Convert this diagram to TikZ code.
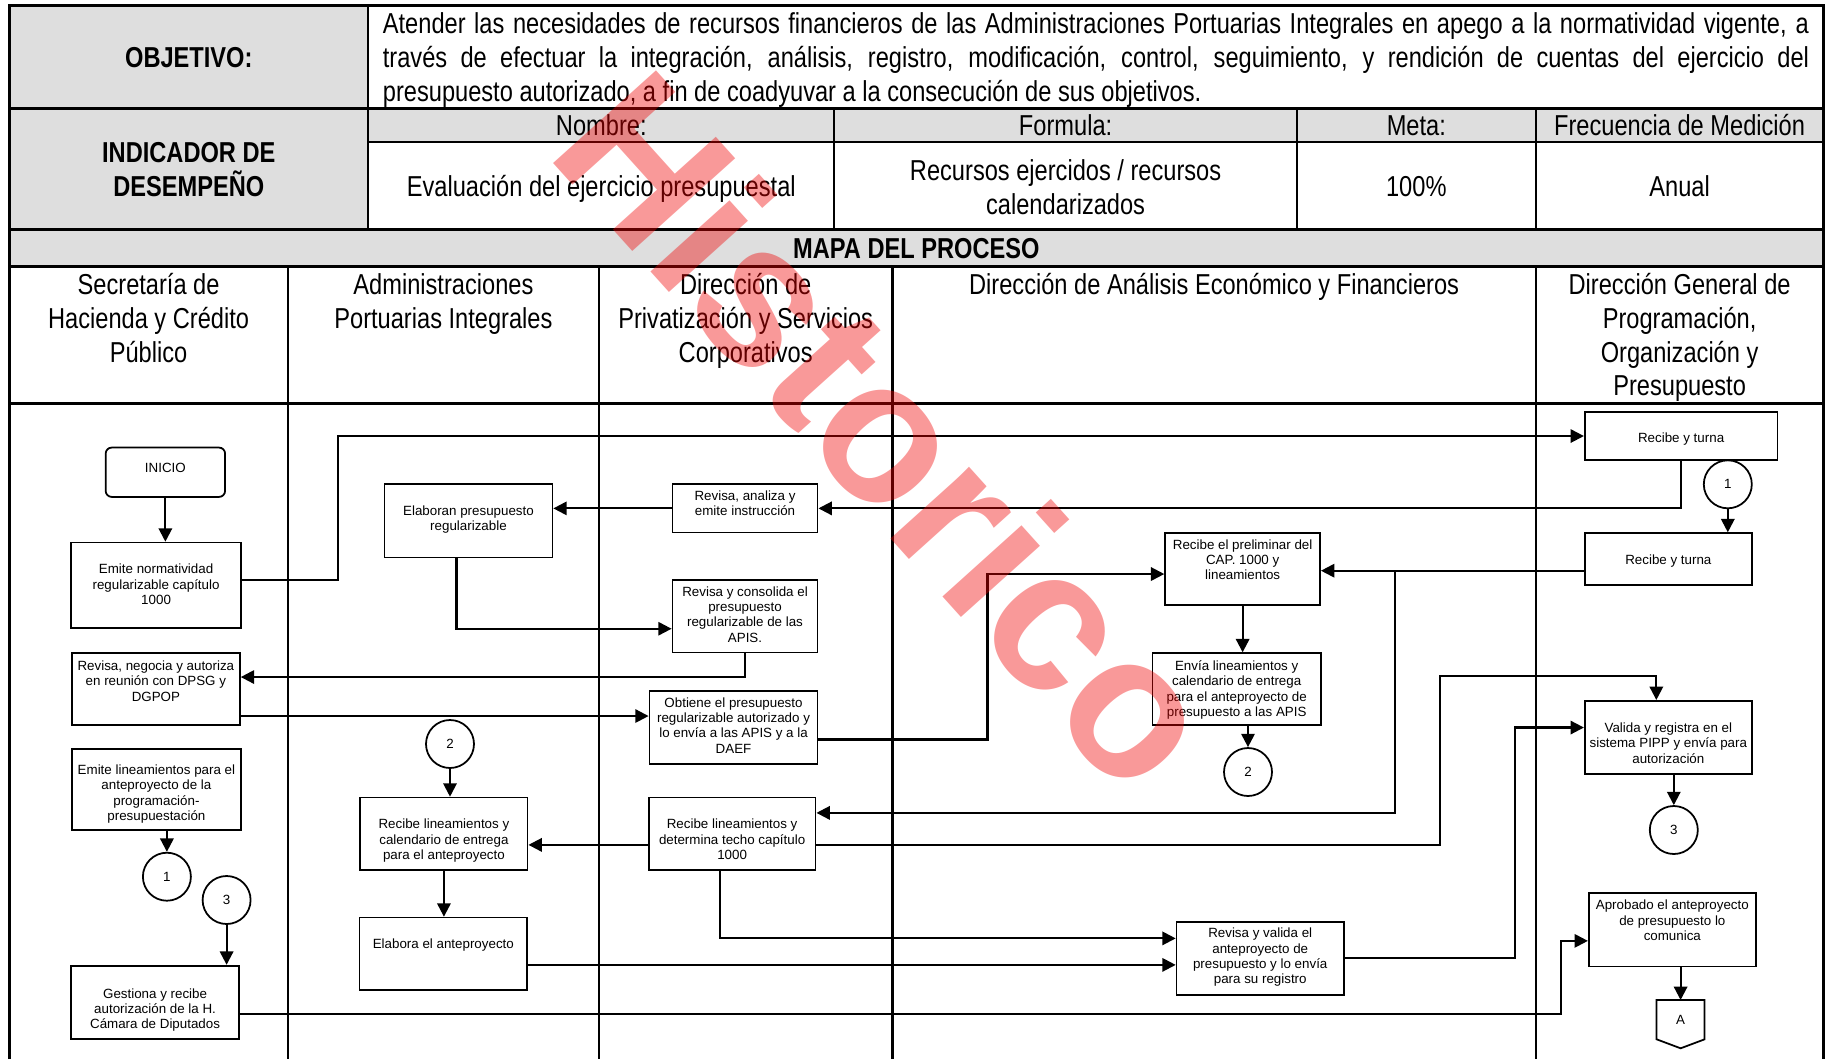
\documentclass[tikz,border=0pt]{standalone}
\usepackage{fontspec}
\setmainfont{Liberation Sans}
\newfontfamily\narrowfont[FakeStretch=0.82]{Liberation Sans}
\usetikzlibrary{arrows.meta}

\definecolor{cellgray}{RGB}{222,222,222}
\definecolor{wmred}{RGB}{240,0,0}

\tikzset{
  tbl/.style={line width=0.6pt},
  tblthick/.style={line width=0.9pt},
  hdr/.style={font=\narrowfont\fontsize{8.2}{9.6}\selectfont, align=flush center, anchor=base, inner sep=0pt},
  hdrb/.style={hdr, font=\narrowfont\bfseries\fontsize{8.2}{9.6}\selectfont},
  box/.style={draw, line width=0.5pt, inner sep=0pt, align=flush center, anchor=north west,
    font=\fontsize{3.8}{4.35}\selectfont},
  conn/.style={draw, circle, line width=0.5pt, minimum size=0.48cm, inner sep=0pt,
    font=\fontsize{3.8}{4.35}\selectfont},
  flow/.style={line width=0.6pt, >={Triangle[length=3.8pt,width=3.8pt]}, ->},
}

\begin{document}
\begin{tikzpicture}

    \useasboundingbox (0,0) rectangle (18.27,-10.59);

    % gray cells
    \fill[cellgray] (0.093,-0.058) rectangle (3.682,-2.295);
    \fill[cellgray] (3.682,-1.084) rectangle (18.235,-1.422);
    \fill[cellgray] (0.093,-2.295) rectangle (18.235,-2.668);

    % table lines
    \draw[tblthick] (0.093,-10.59) -- (0.093,-0.058) -- (18.235,-0.058) -- (18.235,-10.59);
    \draw[tblthick] (0.093,-1.084) -- (18.235,-1.084);
    \draw[tblthick] (0.093,-2.295) -- (18.235,-2.295);
    \draw[tblthick] (0.093,-2.668) -- (18.235,-2.668);
    \draw[tblthick] (0.093,-4.032) -- (18.235,-4.032);
    \draw[tbl] (3.682,-1.422) -- (18.235,-1.422);
    \draw[tbl] (3.682,-0.058) -- (3.682,-2.295);
    %% indicator columns
    \draw[tbl] (8.343,-1.084) -- (8.343,-2.295);
    \draw[tbl] (12.969,-1.084) -- (12.969,-2.295);
    \draw[tbl] (15.357,-1.084) -- (15.357,-2.295);
    %% lanes
    \draw[tbl] (2.878,-2.668) -- (2.878,-10.59);
    \draw[tbl] (5.989,-2.668) -- (5.989,-10.59);
    \draw[tbl] (8.925,-2.668) -- (8.925,-10.59);
    \draw[tbl] (15.357,-2.668) -- (15.357,-10.59);

    % header texts
    \node[hdrb] (objetivo) at (1.888,-0.673) {OBJETIVO:};
    \node[hdr, anchor=base west, text width=14.262cm, align=justify] (objtext) at (3.822,-0.337)
      {Atender las necesidades de recursos financieros de las Administraciones Portuarias Integrales en apego a la normatividad vigente, a\linebreak
       través de efectuar la integración, análisis, registro, modificación, control, seguimiento, y rendición de cuentas del ejercicio del\linebreak
       presupuesto autorizado, a fin de coadyuvar a la consecución de sus objetivos.};
    \node[hdrb, text width=3.4cm] (indicador) at (1.888,-1.629) {INDICADOR DE\\DESEMPEÑO};
    \node[hdr] (nombre) at (6.013,-1.351) {Nombre:};
    \node[hdr] (formula) at (10.656,-1.351) {Formula:};
    \node[hdr] (meta) at (14.163,-1.351) {Meta:};
    \node[hdr] (frecuencia) at (16.796,-1.351) {Frecuencia de Medición};
    \node[hdr] (nombreval) at (6.013,-1.968) {Evaluación del ejercicio presupuestal};
    \node[hdr, text width=4.4cm] (formulaval) at (10.656,-1.805) {Recursos ejercidos / recursos\\calendarizados};
    \node[hdr] (metaval) at (14.163,-1.968) {100\%};
    \node[hdr] (frecval) at (16.796,-1.968) {Anual};
    \node[hdrb] (mapa) at (9.164,-2.583) {MAPA DEL PROCESO};

    % lanes
    \node[hdr, text width=2.7cm] (shcp) at (1.486,-2.947) {Secretaría de\\Hacienda y Crédito\\Público};
    \node[hdr, text width=3.0cm] (apis) at (4.434,-2.947) {Administraciones\\Portuarias Integrales};
    \node[hdr, text width=2.85cm] (dpsc) at (7.457,-2.947) {Dirección de\\Privatización y Servicios\\Corporativos};
    \node[hdr, text width=6.3cm] (daef) at (12.141,-2.947) {Dirección de Análisis Económico y Financieros};
    \node[hdr, text width=2.8cm] (dgpop) at (16.796,-2.947) {Dirección General de\\Programación,\\Organización y\\Presupuesto};

    % steps
    %% SHCP
    \node[box, rounded corners=0.06cm, text width=1.194cm, text height=7.06pt, text depth=6.97pt] (inicio) at (1.048,-4.467) {INICIO};
    \node[box, text width=1.696cm, text height=8.93pt, text depth=15.43pt] (emite) at (0.704,-5.417) {Emite normatividad\\regularizable capítulo\\1000};
    \node[box, text width=1.68cm, text height=4.98pt, text depth=15.42pt] (negocia) at (0.71,-6.523) {Revisa, negocia y autoriza\\en reunión con DPSG y\\DGPOP};
    \node[box, text width=1.689cm, text height=7.34pt, text depth=15.71pt] (emitelin) at (0.711,-7.48) {Emite lineamientos para el\\anteproyecto de la\\programación-\\presupuestación};
    \node[box, text width=1.676cm, text height=9.25pt, text depth=11.61pt] (gestiona) at (0.704,-9.648) {Gestiona y recibe\\autorización de la H.\\Cámara de Diputados};
    %% APIs
    \node[box, text width=1.68cm, text height=8.96pt, text depth=11.92pt] (elaboran) at (3.836,-4.833) {Elaboran presupuesto\\regularizable};
    \node[box, text width=1.673cm, text height=8.93pt, text depth=11.73pt] (reccal) at (3.594,-7.967) {Recibe lineamientos y\\calendario de entrega\\para el anteproyecto};
    \node[box, text width=1.677cm, text height=8.93pt, text depth=11.73pt] (elabora) at (3.586,-9.167) {Elabora el anteproyecto};
    %% DPSC
    \node[box, text width=1.451cm, text height=4.69pt, text depth=9.08pt] (analiza) at (6.716,-4.833) {Revisa, analiza y\\emite instrucción};
    \node[box, text width=1.451cm, text height=4.69pt, text depth=16.0pt] (consolida) at (6.716,-5.79) {Revisa y consolida el\\presupuesto\\regularizable de las\\APIS.};
    \node[box, text width=1.681cm, text height=4.69pt, text depth=16.17pt] (obtiene) at (6.486,-6.90) {Obtiene el presupuesto\\regularizable autorizado y\\lo envía a las APIS y a la\\DAEF};
    \node[box, text width=1.669cm, text height=8.93pt, text depth=11.73pt] (determina) at (6.478,-7.967) {Recibe lineamientos y\\determina techo capítulo\\1000};
    %% DAEF
    \node[box, text width=1.549cm, text height=4.50pt, text depth=15.90pt] (preliminar) at (11.643,-5.323) {Recibe el preliminar del\\CAP. 1000 y\\lineamientos};
    \node[box, text width=1.684cm, text height=4.98pt, text depth=15.42pt] (envia) at (11.516,-6.523) {Envía lineamientos y\\calendario de entrega\\para el anteproyecto de\\presupuesto a las APIS};
    \node[box, text width=1.673cm, text height=4.58pt, text depth=16.19pt] (revvalida) at (11.757,-9.21) {Revisa y valida el\\anteproyecto de\\presupuesto y lo envía\\para su registro};
    %% DGPOP
    \node[box, text width=1.927cm, text height=8.85pt, text depth=4.89pt] (turna1) at (15.839,-4.11) {Recibe y turna};
    \node[box, text width=1.671cm, text height=9.05pt, text depth=5.75pt] (turna2) at (15.839,-5.323) {Recibe y turna};
    \node[box, text width=1.671cm, text height=9.05pt, text depth=11.81pt] (valida) at (15.839,-7.00) {Valida y registra en el\\sistema PIPP y envía para\\autorización};
    \node[box, text width=1.671cm, text height=4.78pt, text depth=16.10pt] (aprobado) at (15.879,-8.923) {Aprobado el anteproyecto\\de presupuesto lo\\comunica};

    % connectors
    \node[conn] (c1a) at (1.669,-8.767) {1};
    \node[conn] (c3a) at (2.266,-9.00) {3};
    \node[conn] (c2a) at (4.50,-7.44) {2};
    \node[conn] (c2b) at (12.48,-7.72) {2};
    \node[conn] (c1b) at (17.278,-4.843) {1};
    \node[conn] (c3b) at (16.738,-8.30) {3};

    % off-page A
    \coordinate (atop) at (16.806,-10.00);
    \draw[line width=0.5pt] (16.566,-10.00) -- (17.046,-10.00) -- (17.046,-10.393) -- (16.806,-10.483) -- (16.566,-10.393) -- cycle;
    \node[font=\fontsize{3.8}{4.35}\selectfont] (offA) at (16.806,-10.20) {A};

    % arrows
    \draw[flow] (inicio) -- (inicio |- emite.north);
    \draw[flow] ([yshift=.05cm]emite.east) -- ++(0.965,0) |- (turna1.west);
    \draw[flow] (turna1.south) |- (analiza.east);
    \draw[flow] (analiza.west) -- (analiza.west -| elaboran.east);
    \draw[flow] ([xshift=-.12cm]elaboran.south) |- ([yshift=-.125cm]consolida.west);
    \draw[flow] (consolida.south) |- ([yshift=.12cm]negocia.east);
    \draw[flow] ([yshift=-.27cm]negocia.east) coordinate (n7) -- (n7 -| obtiene.west);
    \draw[flow] ([yshift=-.12cm]obtiene.east) -- ++(1.69,0) |- ([yshift=-.05cm]preliminar.west);
    \draw[flow] (c1b) -- (c1b |- turna2.north);
    \draw[flow] ([yshift=-.115cm]turna2.west) coordinate (t2) -- coordinate[pos=.72] (split) (t2 -| preliminar.east);
    \draw[flow] (split) |- ([yshift=.21cm]determina.east);
    \draw[flow] (preliminar.south) -- (preliminar.south |- envia.north);
    \draw[flow] (envia.south -| c2b) -- (c2b);
    \draw[flow] ([yshift=-.11cm]determina.west) coordinate (d14) -- (d14 -| reccal.east);
    \draw[flow] ([yshift=-.11cm]determina.east) -| (14.40,-6.76) -| ([xshift=-.12cm]valida.north);
    \draw[flow] ([xshift=-.12cm]determina.south) |- ([yshift=.2cm]revvalida.west);
    \draw[flow] ([yshift=-.11cm]elabora.east) coordinate (e17) -- (e17 -| revvalida.west);
    \draw[flow] (c2a) -- (c2a |- reccal.north);
    \draw[flow] (reccal.south) -- (reccal.south |- elabora.north);
    \draw[flow] (revvalida.east) -- ++(1.70,0) |- ([yshift=.1cm]valida.west);
    \draw[flow] (valida.south -| c3b) -- (c3b);
    \draw[flow] (emitelin.south -| c1a) -- (c1a);
    \draw[flow] (c3a) -- (c3a |- gestiona.north);
    \draw[flow] ([yshift=-.12cm]gestiona.east) -- ++(13.21,0) |- ([yshift=-.11cm]aprobado.west);
    \draw[flow] (aprobado.south -| atop) -- (atop);

    % watermark
    \node[font=\bfseries\fontsize{57.3}{62}\selectfont, text=wmred, text opacity=0.4, rotate=-48] (marca) at (8.90,-4.30) {Historico};

\end{tikzpicture}
\end{document}
